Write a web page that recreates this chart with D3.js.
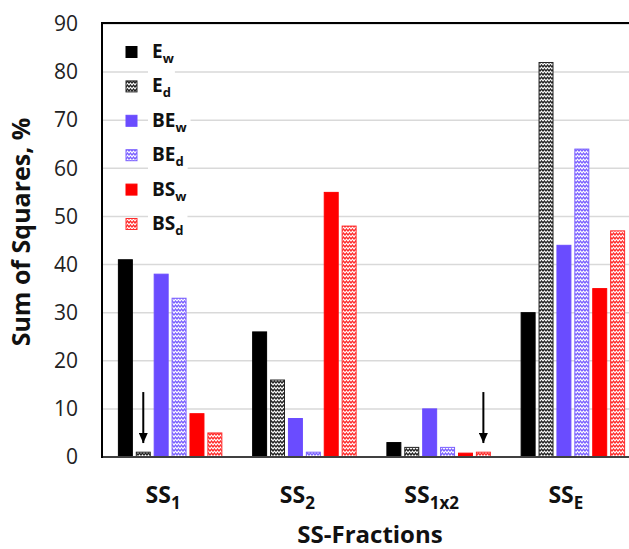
<!DOCTYPE html>
<html><head><meta charset="utf-8">
<script src="https://cdn.jsdelivr.net/npm/d3@7"></script>
<style>body{margin:0;background:#fff}svg{display:block}</style>
</head><body>
<svg id="c" width="629" height="549"></svg>
<script>
const categories = ["SS1", "SS2", "SS1x2", "SSE"];
const catMain = ["SS", "SS", "SS", "SS"];
const catSub = ["1", "2", "1x2", "E"];
const seriesKeys = ["Ew", "Ed", "BEw", "BEd", "BSw", "BSd"];
const seriesMain = ["E", "E", "BE", "BE", "BS", "BS"];
const seriesSub = ["w", "d", "w", "d", "w", "d"];
const Ew  = [41, 26, 3, 30];
const Ed  = [1, 16, 2, 82];
const BEw = [38, 8, 10, 44];
const BEd = [33, 1, 2, 64];
const BSw = [9, 55, 0.8, 35];
const BSd = [5, 48, 1, 47];
const yTicks = [0, 10, 20, 30, 40, 50, 60, 70, 80, 90];
const arrows = [{cat: "SS1", series: "Ed", from: 13.5, to: 2.9}, {cat: "SS1x2", series: "BSd", from: 13.5, to: 2.9}];

const values = {Ew, Ed, BEw, BEd, BSw, BSd};
const colors = {Ew: "#000000", Ed: "#222222", BEw: "#6a4cff", BEd: "#7a60ff", BSw: "#ff0000", BSd: "#ff2a2a"};
const patterned = {Ed: true, BEd: true, BSd: true};

const svg = d3.select("#c");
const mLeft = 103, mTop = 24, mBottom = 457, mRight = 640;
const font = "'Open Sans', sans-serif";

const x = d3.scaleBand().domain(categories).range([mLeft, mRight]).paddingInner(0).paddingOuter(0);
const xs = d3.scaleBand().domain(seriesKeys).range([0, x.bandwidth()]).paddingInner(0.22).paddingOuter(0.86);
const y = d3.scaleLinear().domain([0, 90]).range([mBottom, mTop]);

// patterns
const defs = svg.append("defs");
seriesKeys.filter(k => patterned[k]).forEach(k => {
  const p = defs.append("pattern").attr("id", "pat-" + k).attr("patternUnits", "userSpaceOnUse")
    .attr("width", 6).attr("height", 4);
  p.append("rect").attr("width", 6).attr("height", 4).attr("fill", "#fff");
  p.append("path").attr("d", "M-1.5,1 L0,3 L1.5,1 L3,3 L4.5,1 L6,3 L7.5,1").attr("fill", "none")
    .attr("stroke", colors[k]).attr("stroke-width", 1.3);
});
defs.append("marker").attr("id", "arrowhead").attr("viewBox", "0 0 10 10").attr("refX", 10).attr("refY", 5)
  .attr("markerWidth", 5).attr("markerHeight", 4.5).attr("markerUnits", "strokeWidth").attr("orient", "auto")
  .attr("preserveAspectRatio", "none")
  .append("path").attr("d", "M0,0 L10,5 L0,10 Z").attr("fill", "#000");

// grid
svg.append("g").selectAll("line").data(yTicks).join("line")
  .attr("x1", mLeft).attr("x2", 629).attr("y1", d => y(d)).attr("y2", d => y(d))
  .attr("stroke", "#d9d9d9").attr("stroke-width", 1.5);

// y axis labels
const ya = svg.append("g").attr("transform", `translate(${mLeft},0)`)
  .call(d3.axisLeft(y).tickValues(yTicks).tickSize(0).tickPadding(25));
ya.select(".domain").remove();
ya.selectAll("text").attr("font-family", font).attr("font-size", 21).attr("fill", "#222");

// bars
const gBars = svg.append("g");
seriesKeys.forEach(k => {
  gBars.append("g").selectAll("rect").data(categories.map((c, i) => ({c, v: values[k][i]}))).join("rect")
    .attr("x", d => x(d.c) + xs(k)).attr("width", xs.bandwidth())
    .attr("y", d => y(d.v)).attr("height", d => y(0) - y(d.v))
    .attr("fill", patterned[k] ? `url(#pat-${k})` : colors[k])
    .attr("stroke", colors[k]).attr("stroke-width", 1);
});

// arrows
svg.append("g").selectAll("line").data(arrows).join("line")
  .attr("x1", d => x(d.cat) + xs(d.series) + xs.bandwidth() / 2)
  .attr("x2", d => x(d.cat) + xs(d.series) + xs.bandwidth() / 2)
  .attr("y1", d => y(d.from)).attr("y2", d => y(d.to))
  .attr("stroke", "#000").attr("stroke-width", 2).attr("marker-end", "url(#arrowhead)");

// frame
svg.append("line").attr("x1", mLeft).attr("x2", 629).attr("y1", y(0)).attr("y2", y(0)).attr("stroke", "#404040").attr("stroke-width", 2);
svg.append("line").attr("x1", mLeft - 1).attr("x2", 629).attr("y1", mTop - 1).attr("y2", mTop - 1).attr("stroke", "#000").attr("stroke-width", 2);
svg.append("line").attr("x1", mLeft - 1).attr("x2", mLeft - 1).attr("y1", mTop - 2).attr("y2", y(0) + 1).attr("stroke", "#000").attr("stroke-width", 2);

// x labels
const xl = svg.append("g");
categories.forEach((c, i) => {
  const t = xl.append("text").attr("x", x(c) + x.bandwidth() / 2 - 7).attr("y", 503)
    .attr("text-anchor", "middle").attr("font-family", font).attr("font-weight", "bold").attr("font-size", 23).attr("fill", "#111");
  t.append("tspan").text(catMain[i]);
  t.append("tspan").attr("font-size", 17).attr("dy", 6).text(catSub[i]);
});

// axis titles
svg.append("text").attr("x", 370).attr("y", 543).attr("text-anchor", "middle")
  .attr("font-family", font).attr("font-weight", "bold").attr("font-size", 24).attr("fill", "#111").text("SS-Fractions");
svg.append("text").attr("transform", "translate(30,232) rotate(-90)").attr("text-anchor", "middle")
  .attr("font-family", font).attr("font-weight", "bold").attr("font-size", 25).attr("fill", "#111").text("Sum of Squares, %");

// legend
const lg = svg.append("g");
seriesKeys.forEach((k, i) => {
  const cy = 52 + i * 34.4;
  const g = lg.append("g");
  const bg = g.append("rect").attr("fill", "#fff");
  g.append("rect").attr("x", 126).attr("y", cy - 5.5).attr("width", 11).attr("height", 11)
    .attr("fill", patterned[k] ? `url(#pat-${k})` : colors[k]).attr("stroke", colors[k]).attr("stroke-width", 1);
  const t = g.append("text").attr("x", 152).attr("y", cy + 6).attr("font-family", font)
    .attr("font-weight", "bold").attr("font-size", 19).attr("fill", "#111");
  t.append("tspan").text(seriesMain[i]);
  t.append("tspan").attr("font-size", 13).attr("dy", 5).text(seriesSub[i]);
  const bb = t.node().getBBox();
  bg.attr("x", bb.x - 4).attr("y", cy - 16).attr("width", bb.width + 8).attr("height", 32);
});
</script>
</body></html>
